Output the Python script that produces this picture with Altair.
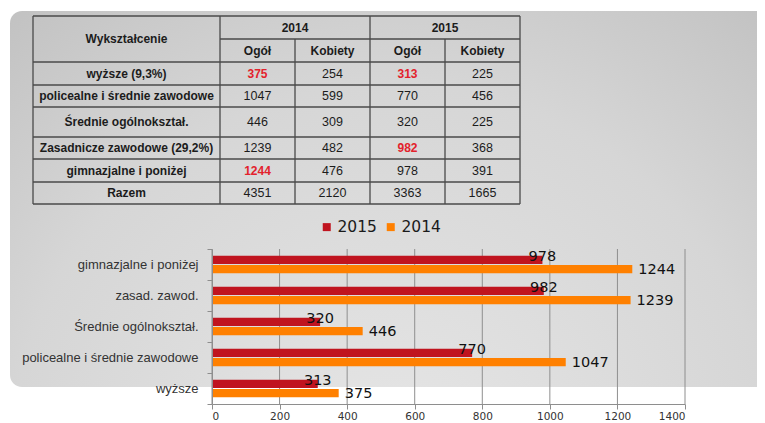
import altair as alt
import pandas as pd

# ---------------- data: table ----------------
table_header = "Wykształcenie"
years = ["2014", "2015"]
subheaders = ["Ogół", "Kobiety"]
table_rows = ["wyższe (9,3%)", "policealne i średnie zawodowe", "Średnie ogólnokształ.",
              "Zasadnicze  zawodowe (29,2%)", "gimnazjalne i poniżej", "Razem"]
ogol_2014 = [375, 1047, 446, 1239, 1244, 4351]
kobiety_2014 = [254, 599, 309, 482, 476, 2120]
ogol_2015 = [313, 770, 320, 982, 978, 3363]
kobiety_2015 = [225, 456, 225, 368, 391, 1665]
red_ogol_2014 = [True, False, False, False, True, False]
red_ogol_2015 = [True, False, False, True, False, False]

# ---------------- data: bar chart ----------------
bar_categories = ["gimnazjalne i poniżej", "zasad. zawod.", "Średnie ogólnokształ.",
                  "policealne i średnie zawodowe", "wyższe"]
series = ["2015", "2014"]
values_2015 = [978, 982, 320, 770, 313]
values_2014 = [1244, 1239, 446, 1047, 375]
x_ticks = [0, 200, 400, 600, 800, 1000, 1200, 1400]

# ---------------- styles ----------------
RED = "#c0141f"
ORANGE = "#ff8000"
GRID = "#8e8e8e"
TFONT = "Liberation Sans"
TXT = "#1c1c1c"
RED_TXT = "#e3222c"

# ---------------- tables built from the arrays ----------------
value_cols = [ogol_2014, kobiety_2014, ogol_2015, kobiety_2015]
red_cols = [red_ogol_2014, [False] * len(table_rows), red_ogol_2015, [False] * len(table_rows)]
ns = len(subheaders)
cells = [dict(c=0.5, r=1.0, text=table_header, bold=True, red=False)]
for i, yv in enumerate(years):
    cells.append(dict(c=1 + i * ns + ns / 2, r=0.5, text=yv, bold=True, red=False))
    for j, s in enumerate(subheaders):
        cells.append(dict(c=1 + i * ns + j + 0.5, r=1.5, text=s, bold=True, red=False))
for k, name in enumerate(table_rows):
    cells.append(dict(c=0.5, r=2 + k + 0.5, text=name, bold=True, red=False))
    for m, col in enumerate(value_cols):
        flag = bool(red_cols[m][k])
        cells.append(dict(c=1 + m + 0.5, r=2 + k + 0.5, text=str(col[k]), bold=flag, red=flag))
cell_df = pd.DataFrame(cells)

n_cols = 1 + len(years) * ns
n_rows = 2 + len(table_rows)
lines = []
for c in range(n_cols + 1):
    inner = 1 <= c < n_cols and (c - 1) % ns != 0
    lines.append(dict(x0=c, x1=c, y0=1 if inner else 0, y1=n_rows))
for r in range(n_rows + 1):
    lines.append(dict(x0=1 if r == 1 else 0, x1=n_cols, y0=r, y1=r))
line_df = pd.DataFrame(lines)

rows_bar = []
for s, vals in zip(series, [values_2015, values_2014]):
    for cat, v in zip(bar_categories, vals):
        rows_bar.append(dict(category=cat, series=s, value=v))
bar_df = pd.DataFrame(rows_bar)
tick_df = pd.DataFrame({"value": x_ticks})

# ---------------- table scales (placed above the bar plot) ----------------
tx = alt.Scale(domain=list(range(n_cols + 1)), range=[-179, 8, 83, 158, 233, 308], nice=False, zero=False)
ty = alt.Scale(domain=list(range(n_rows + 1)),
               range=[-233, -210, -187, -164, -142, -112, -90, -67, -45], nice=False, zero=False)

# ---------------- background slide ----------------
bg = alt.Chart(pd.DataFrame({"k": [0]})).mark_rect(
    cornerRadius=12,
    fill={"gradient": "radial", "x1": 0.5, "y1": 0.85, "x2": 0.5, "y2": 0.85, "r1": 0, "r2": 1.0,
          "stops": [{"offset": 0, "color": "#e6e6e6"}, {"offset": 0.5, "color": "#d6d6d6"},
                    {"offset": 1, "color": "#b2b2b2"}]},
    stroke=None,
).encode(x=alt.value(-202), x2=alt.value(560), y=alt.value(-238), y2=alt.value(138))

table_lines = alt.Chart(line_df).mark_rule(color="#4a4a4a", strokeWidth=1.3).encode(
    x=alt.X("x0:Q", scale=tx, axis=None), x2="x1:Q",
    y=alt.Y("y0:Q", scale=ty, axis=None), y2="y1:Q",
)

text_base = alt.Chart(cell_df).encode(
    x=alt.X("c:Q", scale=tx, axis=None),
    y=alt.Y("r:Q", scale=ty, axis=None),
    text="text:N",
    color=alt.condition("datum.red", alt.value(RED_TXT), alt.value(TXT)),
)
bold_txt = text_base.transform_filter("datum.bold").mark_text(
    font=TFONT, fontSize=12, fontWeight="bold", baseline="middle", align="center")
reg_txt = text_base.transform_filter("!datum.bold").mark_text(
    font=TFONT, fontSize=12.5, baseline="middle", align="center")

# ---------------- bar chart ----------------
x_scale = alt.Scale(domain=[0, 1400], nice=False)
x_enc = alt.X("value:Q", scale=x_scale,
              axis=alt.Axis(values=x_ticks, format="d", title=None, grid=False, zindex=1,
                            domainColor=GRID, tickColor=GRID, tickSize=5, labelFont="DejaVu Sans",
                            labelFontSize=10.5, labelColor="#333333", labelPadding=2))
y_enc = alt.Y("category:N", scale=alt.Scale(domain=bar_categories, paddingInner=0, paddingOuter=0),
              axis=alt.Axis(title=None, tickBand="extent", domainColor=GRID, tickColor=GRID, tickSize=5,
                            labelPadding=9, labelFont="Liberation Sans", labelFontSize=13, zindex=1,
                            labelColor="#333333", grid=False))
yoff = alt.YOffset("series:N", scale=alt.Scale(domain=series, paddingInner=0.1, paddingOuter=0.735))

grid_rules = alt.Chart(tick_df).mark_rule(color=GRID, strokeWidth=1).encode(x=x_enc)

bars = alt.Chart(bar_df).mark_bar().encode(
    x=x_enc, y=y_enc, yOffset=yoff,
    color=alt.Color("series:N", scale=alt.Scale(domain=series, range=[RED, ORANGE]),
                    legend=alt.Legend(orient="none", direction="horizontal", legendX=107, legendY=-30,
                                      title=None, symbolType="square", symbolSize=64, symbolStrokeWidth=0,
                                      labelFont="DejaVu Sans", labelFontSize=15.5, labelColor="#1a1a1a",
                                      labelOffset=3, columnPadding=6, padding=0)),
)
labels_2015 = alt.Chart(bar_df).transform_filter(alt.datum.series == series[0]).mark_text(
    font="DejaVu Sans", fontSize=14.5, color="#111111", align="center", baseline="middle", dy=-3
).encode(x=x_enc, y=y_enc, yOffset=yoff, text="value:Q")
labels_2014 = alt.Chart(bar_df).transform_filter(alt.datum.series == series[1]).mark_text(
    font="DejaVu Sans", fontSize=14.5, color="#111111", align="left", baseline="middle", dx=6, dy=1
).encode(x=x_enc, y=y_enc, yOffset=yoff, text="value:Q")

bar_layer = alt.layer(grid_rules, bars, labels_2015, labels_2014)

chart = alt.layer(bg, bar_layer, table_lines, bold_txt, reg_txt).resolve_scale(
    x="independent", y="independent"
).properties(
    width=473, height=155,
    autosize=alt.AutoSizeParams(type="none"),
    padding={"left": 204, "top": 241, "right": 72, "bottom": 20},
).configure_view(stroke=None)

chart.save("out.html", embed_options={"renderer": "svg", "actions": False})
